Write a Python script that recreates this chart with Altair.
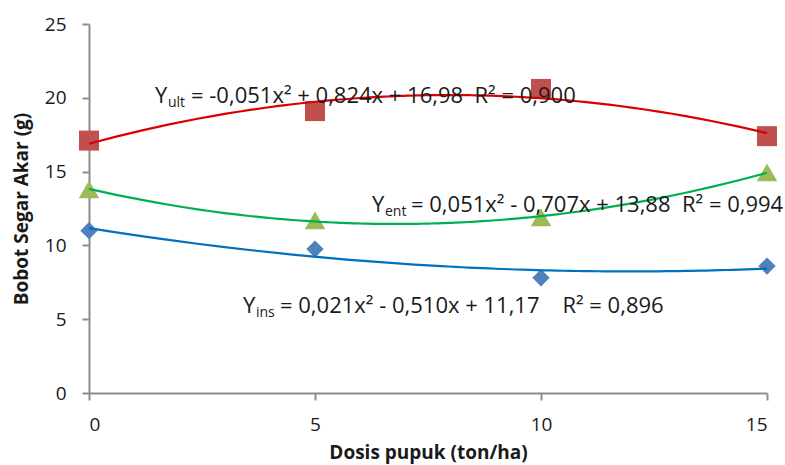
import altair as alt
import pandas as pd

# ---- data ----
dosis = [0, 5, 10, 15]
ult = [17.1, 19.1, 20.6, 17.4]
ent = [13.8, 11.7, 11.9, 14.95]
ins = [11.0, 9.75, 7.8, 8.6]
series_names = ["ult", "ent", "ins"]

x_ticks = [0, 5, 10, 15]
y_ticks = [0, 5, 10, 15, 20, 25]

eq_ult = "= -0,051x² + 0,824x + 16,98\u00a0\u00a0R² = 0,900"
eq_ent = "= 0,051x² - 0,707x + 13,88\u00a0\u00a0R² = 0,994"
eq_ins = "= 0,021x² - 0,510x + 11,17\u00a0\u00a0\u00a0\u00a0R² = 0,896"

rows = []
for name, vals in zip(series_names, [ult, ent, ins]):
    for d, v in zip(dosis, vals):
        rows.append({"series": name, "dosis": d, "bobot": v})
df = pd.DataFrame(rows)

FONT = "Open Sans"
TXT = "#1a1a1a"
AX = "#8c8c8c"

line_colors = {"ult": "#d90000", "ent": "#00b050", "ins": "#0070c0"}
pt_colors = {"ult": "#c0504d", "ent": "#9bbb59", "ins": "#4f81bd"}
pt_shapes = {"ult": "square", "ent": "triangle-up", "ins": "diamond"}
pt_sizes = {"ult": 400, "ent": 420, "ins": 300}

xenc = alt.X("dosis:Q", scale=alt.Scale(domain=[0, 15], nice=False),
             axis=alt.Axis(values=x_ticks, title="Dosis pupuk (ton/ha)", grid=False,
                           titleX=339, titleY=59, titleBaseline="middle"))
yenc = alt.Y("bobot:Q", scale=alt.Scale(domain=[0, 25], nice=False),
             axis=alt.Axis(values=y_ticks, title="Bobot Segar Akar (g)", grid=False,
                           titleX=-68, titleY=184.5, titleBaseline="middle", titleAngle=-90))

base = alt.Chart(df)

points = []
for s in series_names:
    points.append(
        base.transform_filter(alt.datum.series == s)
        .mark_point(filled=True, opacity=1, shape=pt_shapes[s], size=pt_sizes[s],
                    color=pt_colors[s], strokeWidth=0)
        .encode(x=xenc, y=yenc)
    )

lines = base.transform_regression(
    "dosis", "bobot", groupby=["series"], method="poly", order=2, extent=[0, 15]
).mark_line(strokeWidth=2.2).encode(
    x=xenc, y=yenc,
    stroke=alt.Stroke("series:N",
                      scale=alt.Scale(domain=series_names,
                                      range=[line_colors[s] for s in series_names]),
                      legend=None),
)


def label(txt, px, baseline_px, size):
    return alt.Chart(alt.Data(values=[{}])).mark_text(
        text=txt, align="left", baseline="alphabetic", font=FONT,
        fontSize=size, color=TXT
    ).encode(x=alt.value(px - 89), y=alt.value(baseline_px - 24))


MAIN = 22
SUB = 14
texts = [
    label("Y", 155, 103, MAIN), label("ult", 168, 107, SUB), label(eq_ult, 191, 103, MAIN),
    label("Y", 372, 212, MAIN), label("ent", 385, 216, SUB), label(eq_ent, 411, 212, MAIN),
    label("Y", 243, 313, MAIN), label("ins", 256, 317, SUB), label(eq_ins, 280, 313, MAIN),
]

chart = alt.layer(*points, lines, *texts).properties(
    width=678, height=369,
    padding={"left": 89, "top": 24, "right": 18, "bottom": 72},
    autosize=alt.AutoSizeParams(type="none"),
).configure_view(stroke=None).configure_axis(
    domainColor=AX, domainWidth=2, tickColor=AX, tickWidth=2, tickSize=7,
    labelFont=FONT, labelFontSize=19, labelColor=TXT, labelPadding=15,
    titleFont=FONT, titleFontSize=19, titleFontWeight="bold", titleColor=TXT,
).configure_axisY(labelPadding=16)

chart.save("out.html", embed_options={"renderer": "svg", "actions": False})
